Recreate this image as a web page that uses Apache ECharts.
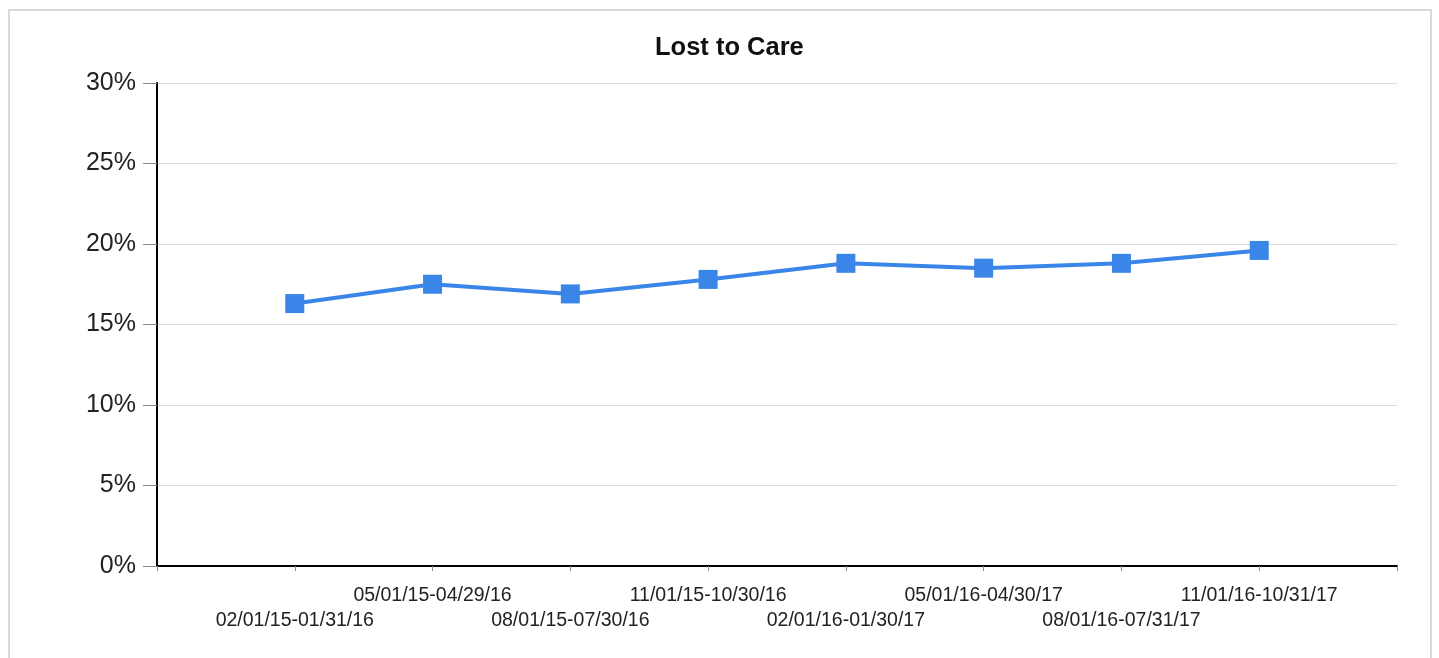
<!DOCTYPE html>
<html>
<head>
  <meta charset="UTF-8">
  <title>Lost to Care</title>
  <script src="https://cdn.jsdelivr.net/npm/echarts/dist/echarts.min.js"></script>
  <style>
    html, body { margin: 0; padding: 0; background: #fff; }
    #frame {
      position: absolute; left: 8px; top: 9px; width: 1424px; height: 700px;
      border: 2px solid #d9d9d9; box-sizing: border-box;
    }
    #main { position: absolute; left: 0; top: 0; width: 1439px; height: 658px; }
  </style>
</head>
<body>
  <div id="frame"></div>
  <div id="main"></div>
  <script>
    var periods = ['', '02/01/15-01/31/16', '05/01/15-04/29/16', '08/01/15-07/30/16', '11/01/15-10/30/16',
                   '02/01/16-01/30/17', '05/01/16-04/30/17', '08/01/16-07/31/17', '11/01/16-10/31/17', ''];
    var lostToCare = [null, 16.3, 17.5, 16.9, 17.8, 18.8, 18.5, 18.8, 19.6, null];

    var myChart = echarts.init(document.getElementById('main'));

    var option = {
      animation: false,
      backgroundColor: 'transparent',
      title: {
        text: 'Lost to Care',
        left: 650,
        top: 30,
        textStyle: { color: '#111', fontSize: 25.5, fontWeight: 'bold', fontFamily: 'Liberation Sans' }
      },
      grid: { left: 157, right: 42, top: 83, bottom: 92, containLabel: false },
      xAxis: {
        type: 'category',
        data: periods,
        boundaryGap: false,
        axisLine: { lineStyle: { color: '#000', width: 2 } },
        axisTick: { show: true, length: 5, lineStyle: { color: '#888' } },
        axisLabel: {
          interval: 0,
          margin: 17,
          color: '#222',
          fontSize: 19.5,
          lineHeight: 25,
          fontFamily: 'Liberation Sans',
          formatter: function (v, i) { return i % 2 === 1 ? '\n' + v : v; }
        },
        splitLine: { show: false }
      },
      yAxis: {
        type: 'value',
        min: 0,
        max: 30,
        interval: 5,
        axisLine: { show: true, lineStyle: { color: '#000', width: 2 } },
        axisTick: { show: true, length: 14, lineStyle: { color: '#888' } },
        axisLabel: {
          formatter: '{value}%',
          color: '#222',
          fontSize: 25,
          margin: 21,
          fontFamily: 'Liberation Sans'
        },
        splitLine: { lineStyle: { color: '#dcdcdc', width: 1 } }
      },
      series: [{
        name: 'Lost to Care',
        type: 'line',
        data: lostToCare,
        symbol: 'rect',
        symbolSize: 19,
        lineStyle: { color: '#3a86e8', width: 4 },
        itemStyle: { color: '#3a86e8' }
      }]
    };

    myChart.setOption(option);
  </script>
</body>
</html>
